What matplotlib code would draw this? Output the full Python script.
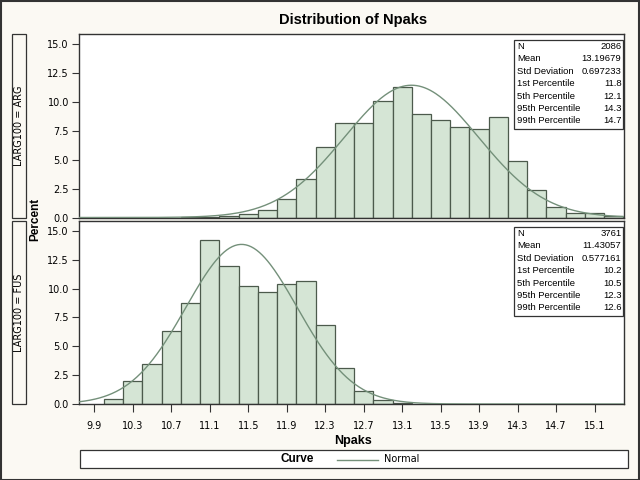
import numpy as np
import matplotlib
matplotlib.use('Agg')
import matplotlib.pyplot as plt
from matplotlib.patches import Rectangle
from matplotlib.lines import Line2D

plt.rcParams['font.family'] = ['DejaVu Sans']
BOLD = ['Liberation Sans', 'DejaVu Sans']
TABLE = ['Liberation Sans', 'DejaVu Sans']

# histogram bins (left edges, width 0.2) and percent heights
bin_width = 0.2
arg_left = [10.8, 11.0, 11.2, 11.4, 11.6, 11.8, 12.0, 12.2, 12.4, 12.6, 12.8, 13.0,
            13.2, 13.4, 13.6, 13.8, 14.0, 14.2, 14.4, 14.6, 14.8, 15.0, 15.2]
arg_pct = [0.05, 0.05, 0.1, 0.26, 0.69, 1.56, 3.29, 6.06, 8.14, 8.14, 10.07, 11.26,
           8.92, 8.40, 7.79, 7.62, 8.66, 4.85, 2.42, 0.87, 0.43, 0.35, 0.17]
fus_left = [10.0, 10.2, 10.4, 10.6, 10.8, 11.0, 11.2, 11.4, 11.6, 11.8, 12.0, 12.2,
            12.4, 12.6, 12.8, 13.0]
fus_pct = [0.47, 1.95, 3.43, 6.30, 8.73, 14.21, 11.95, 10.21, 9.69, 10.38, 10.64, 6.82,
           3.08, 1.10, 0.38, 0.09]

# summary statistics shown in the inset tables
stat_names = ['N', 'Mean', 'Std Deviation', '1st Percentile', '5th Percentile',
              '95th Percentile', '99th Percentile']
arg_stats = ['2086', '13.19679', '0.697233', '11.8', '12.1', '14.3', '14.7']
fus_stats = ['3761', '11.43057', '0.577161', '10.2', '10.5', '12.3', '12.6']
arg_mean, arg_sd = 13.19679, 0.697233
fus_mean, fus_sd = 11.43057, 0.577161

panel_labels = ['LARG100 = ARG', 'LARG100 = FUS']
xticks = [9.9, 10.3, 10.7, 11.1, 11.5, 11.9, 12.3, 12.7, 13.1, 13.5, 13.9, 14.3, 14.7, 15.1]
yticks = [0.0, 2.5, 5.0, 7.5, 10.0, 12.5, 15.0]

W, H = 640, 480
bg = '#fbf9f3'
bar_fill = '#d5e5d5'
bar_edge = '#4c5a4c'
curve_col = '#74907a'
dark = '#333333'


def fx(x):
    return x / W


def fy(y):
    return 1 - y / H


def normal_pct(x, m, s):
    return 100 * bin_width * np.exp(-0.5 * ((x - m) / s) ** 2) / (s * np.sqrt(2 * np.pi))


fig = plt.figure(figsize=(6.4, 4.8), dpi=100, facecolor=bg)
# outer frame
fig.patches.append(Rectangle((0.001, 0.001), 0.997, 0.997, transform=fig.transFigure,
                             fill=False, edgecolor=dark, lw=1.5))

fig.text(fx(353), fy(20), 'Distribution of Npaks', ha='center', va='center',
         fontsize=10.5, fontweight='bold', family=BOLD)

xl, xr = 9.744, 15.406
panels = [(34.3, 217.5, arg_left, arg_pct, arg_mean, arg_sd, arg_stats, 40),
          (221, 404, fus_left, fus_pct, fus_mean, fus_sd, fus_stats, 227)]

axes = []
for i, (ytop, ybot, left, pct, m, s, stats, box_top) in enumerate(panels):
    ax = fig.add_axes([fx(79.3), fy(ybot), fx(624) - fx(79.3), (ybot - ytop) / H])
    ax.bar(left, pct, width=bin_width, align='edge', color=bar_fill,
           edgecolor=bar_edge, linewidth=0.9, zorder=2)
    xs = np.linspace(xl, xr, 400)
    ax.plot(xs, normal_pct(xs, m, s), color=curve_col, lw=1.0, zorder=3)
    ax.set_xlim(xl, xr)
    ax.set_ylim(0, 15.85)
    ax.set_yticks(yticks)
    ax.set_yticklabels(['%.1f' % v for v in yticks])
    ax.tick_params(axis='y', direction='out', length=5, width=0.8, color=dark,
                   labelsize=7, pad=2.5)
    if i == 0:
        ax.set_xticks([])
    else:
        ax.set_xticks(xticks)
        ax.set_xticklabels(['%.1f' % v for v in xticks])
        ax.tick_params(axis='x', direction='out', length=6, width=0.8, color=dark,
                       labelsize=7, pad=6)
    for sp in ax.spines.values():
        sp.set_color(dark)
        sp.set_linewidth(1.0)
    axes.append(ax)

    # strip label box
    fig.patches.append(Rectangle((fx(11.7), fy(ybot)), fx(26.3) - fx(11.7), (ybot - ytop) / H,
                                 transform=fig.transFigure, facecolor=bg,
                                 edgecolor=dark, lw=0.9))
    fig.text(fx(19), fy((ytop + ybot) / 2), panel_labels[i], rotation=90,
             ha='center', va='center', fontsize=7)

    # inset statistics table
    box_h = 89
    fig.patches.append(Rectangle((fx(514.3), fy(box_top + box_h)), fx(623.3) - fx(514.3),
                                 box_h / H, transform=fig.transFigure, facecolor='white',
                                 edgecolor=dark, lw=0.9, zorder=5))
    for r, (name, val) in enumerate(zip(stat_names, stats)):
        yy = box_top + 6.5 + r * 12.4
        fig.text(fx(517), fy(yy), name, ha='left', va='center', fontsize=6.8,
                 family=TABLE, zorder=6)
        fig.text(fx(621.5), fy(yy), val, ha='right', va='center', fontsize=6.8,
                 family=TABLE, zorder=6)

fig.text(fx(35), fy(219), 'Percent', rotation=90, ha='center', va='center',
         fontsize=8.5, fontweight='bold', family=BOLD)
fig.text(fx(353), fy(441), 'Npaks', ha='center', va='center',
         fontsize=9, fontweight='bold', family=BOLD)

# legend strip
fig.patches.append(Rectangle((fx(80), fy(468)), fx(628) - fx(80), 18 / H,
                             transform=fig.transFigure, facecolor='white',
                             edgecolor=dark, lw=0.9))
fig.text(fx(297), fy(459.5), 'Curve', ha='center', va='center', fontsize=8.5,
         fontweight='bold', family=BOLD)
fig.lines.append(Line2D([fx(337), fx(378)], [fy(459.5), fy(459.5)], transform=fig.transFigure,
                        color=curve_col, lw=1.0))
fig.text(fx(384), fy(459.5), 'Normal', ha='left', va='center', fontsize=7)

fig.savefig('out.png', dpi=100, facecolor=bg)
